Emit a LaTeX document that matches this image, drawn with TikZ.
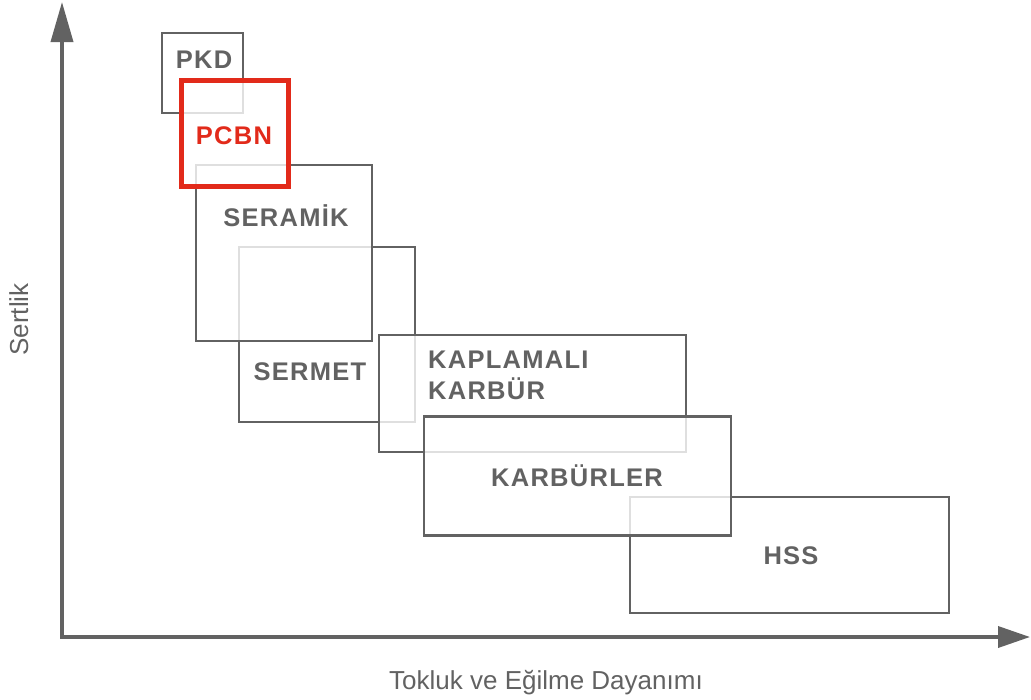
\documentclass[tikz,border=0pt]{standalone}
\usepackage{fontspec}
\setmainfont{Liberation Sans}
\newfontfamily\lblfont[LetterSpace=5]{Liberation Sans Bold}
\usetikzlibrary{arrows.meta}
\definecolor{gr}{RGB}{98,98,98}
\definecolor{rd}{RGB}{226,42,26}
\tikzset{
  box/.style={draw=gr, line width=2.2pt, fill=white, fill opacity=0.8, text opacity=1, rectangle, inner sep=0pt},
  redbox/.style={box, draw=rd, line width=5pt},
  lbl/.style={text=gr, font=\lblfont\fontsize{25.5}{31}\selectfont, inner sep=0pt, anchor=base},
  axlbl/.style={text=gr, font=\fontsize{26}{31}\selectfont, inner sep=0pt, anchor=base},
  axis/.style={draw=gr, line width=3.6pt}
}
\begin{document}
\begin{tikzpicture}[x=1pt,y=-1pt]
\useasboundingbox (0,0) rectangle (1031,699);
% axes
\coordinate (ytip) at (62,2);
\coordinate (orig) at (62,637);
\coordinate (xtip) at (1030,637);
\draw[axis, {Triangle[length=40pt,width=22pt]}-{Triangle[length=32pt,width=21pt]}] (ytip) -- (orig) -- (xtip);
\node[axlbl, rotate=90] (ylab) at (28,319.5) {Sertlik};
\node[axlbl] (xlab) at (546,689) {Tokluk ve Eğilme Dayanımı};
% boxes in stacking order
\node[box, minimum width=81pt, minimum height=80pt] (pkd) at (202.5,73) {};
\node[lbl] (pkdt) at (204,68.5) {PKD};
\node[box, minimum width=176pt, minimum height=175pt] (sermet) at (327,334.5) {};
\node[lbl] (sermett) at (310,380.5) {SERMET};
\node[box, minimum width=319pt, minimum height=116pt] (hss) at (789.5,555) {};
\node[lbl] (hsst) at (791,564.5) {HSS};
\node[box, minimum width=176pt, minimum height=176pt] (seramik) at (284,253) {};
\node[lbl] (seramikt) at (286,226.5) {SERAMİK};
\node[redbox, minimum width=107pt, minimum height=106pt] (pcbn) at (235,133.5) {};
\node[lbl, text=rd] (pcbnt) at (234,144.5) {PCBN};
\node[box, minimum width=307pt, minimum height=117pt] (kap) at (532.5,393.5) {};
\node[lbl, anchor=base west, align=left] (kapt) at (428,399.5) {KAPLAMALI\\KARBÜR};
\node[box, minimum width=307pt, minimum height=119pt] (karb) at (577.5,476) {};
\node[lbl] (karbt) at (577,486.5) {KARBÜRLER};
\end{tikzpicture}
\end{document}
